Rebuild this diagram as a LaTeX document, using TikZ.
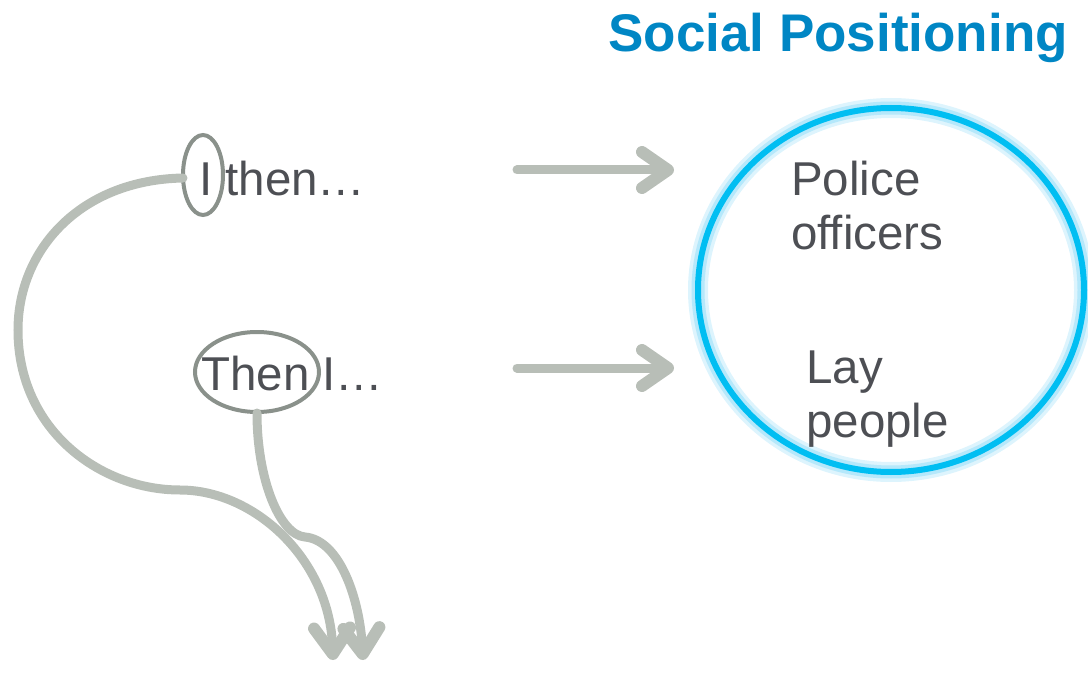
\documentclass[tikz,border=0pt]{standalone}
\usepackage{fontspec}
\setmainfont{Liberation Sans}
\usetikzlibrary{arrows.meta}
\definecolor{conn}{HTML}{B8BEB7}
\definecolor{ring}{HTML}{8A918B}
\definecolor{txt}{HTML}{4D4F54}
\definecolor{cyanline}{HTML}{00BEF2}
\definecolor{glow}{HTML}{B5E8FB}
\definecolor{glow2}{HTML}{DDF4FD}
\definecolor{titleblue}{HTML}{0086C4}
\tikzset{
  lbl/.style={font=\fontsize{47.5}{54}\selectfont, text=txt, inner sep=0pt, anchor=base west},
  ring/.style={draw=ring, line width=4pt},
  conn/.style={draw=conn, line width=9pt, line cap=round,
    -{Straight Barb[length=26pt,width=36pt,line width=12pt 0,round]}},
}
\begin{document}
\begin{tikzpicture}[x=1pt,y=-1pt]
\useasboundingbox (0,0) rectangle (1088,674);
% title
\node[font=\fontsize{53}{60}\selectfont\bfseries, text=titleblue, inner sep=0pt, anchor=base east] (title) at (1068,52) {Social Positioning};
% left texts
\node[lbl] (t1) at (199,196) {I then…};
\node[lbl] (t2) at (201,390) {Then I…};
% ellipses
\draw[ring] (203,175) ellipse [x radius=20, y radius=40];
\draw[ring] (257,372) ellipse [x radius=62, y radius=40];
\coordinate (e1w) at (183,178);
\coordinate (e2s) at (257,413);
\coordinate (tip1) at (333,660);
\coordinate (tip2) at (363,660);
% curved connectors
\draw[conn] (e1w) .. controls (80,180) and (18,250) .. (18,330)
  .. controls (18,430) and (100,490) .. (180,490)
  .. controls (255,490) and (330,560) .. (tip1);
\draw[conn] (e2s) .. controls (257,480) and (280,535) .. (305,537)
  .. controls (340,540) and (360,600) .. (tip2);
% big circle
\coordinate (cc) at (891,290);
\draw[glow2, line width=20pt] (cc) ellipse [x radius=193, y radius=182];
\draw[glow, line width=13pt] (cc) ellipse [x radius=193, y radius=182];
\draw[cyanline, line width=6pt] (cc) ellipse [x radius=193, y radius=182];
% horizontal arrows
\coordinate (a1s) at (517,170);
\coordinate (a1e) at (674,170);
\coordinate (a2s) at (517,368);
\coordinate (a2e) at (674,368);
\draw[conn] (a1s) -- (a1e);
\draw[conn] (a2s) -- (a2e);
% circle texts
\node[lbl] (p1) at (791,196) {Police};
\node[lbl] (p2) at (791,250) {officers};
\node[lbl] (l1) at (806,383) {Lay};
\node[lbl] (l2) at (806,437) {people};
\end{tikzpicture}
\end{document}
